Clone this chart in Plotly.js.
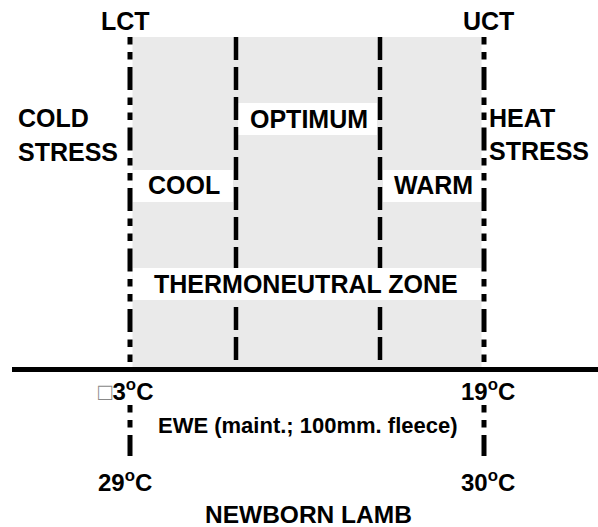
<!DOCTYPE html>
<html>
<head>
<meta charset="utf-8">
<script src="https://cdn.plot.ly/plotly-3.0.1.min.js"></script>
<style>html,body{margin:0;padding:0;background:#fff;}#chart{width:598px;height:527px;}</style>
</head>
<body>
<div id="chart"></div>
<script>
// ---- data (text content of the diagram) ----
const thresholdLabels = ["LCT", "UCT"];
const stressLabels = [["COLD", "STRESS"], ["HEAT", "STRESS"]];
const zoneLabels = ["COOL", "OPTIMUM", "WARM"];
const neutralLabel = "THERMONEUTRAL ZONE";
const eweTemps = ["\u25A13", "19"];
const eweLabel = "EWE (maint.; 100mm. fleece)";
const lambTemps = ["29", "30"];
const lambLabel = "NEWBORN LAMB";

// ---- layout geometry (pixel-like axis units) ----
const W = 598, H = 527;
const lctX = 130, uctX = 484;        // thresholds
const midX = [236, 380];             // optimum boundaries
const topY = 37, baseY = 369.5;
const grayL = 132.5, grayR = 481.5;

const bold = {family: "Arial, 'Liberation Sans', sans-serif", size: 25, color: "#000", weight: "bold"};
const fnt = (s) => Object.assign({}, bold, {size: s});

const shapes = [];
// stippled thermoneutral background
shapes.push({type: "rect", x0: grayL, x1: grayR, y0: topY, y1: baseY, line: {width: 0}, fillcolor: "#eaeaea", layer: "below"});
// white label bands for zones
const bandRows = [
  {x0: grayL, x1: midX[0] - 3, y0: 170, y1: 202},
  {x0: midX[0] + 2, x1: midX[1] - 3, y0: 103, y1: 135},
  {x0: midX[1] + 3, x1: grayR, y0: 170, y1: 202}
];
bandRows.forEach(b => shapes.push({type: "rect", x0: b.x0, x1: b.x1, y0: b.y0, y1: b.y1, line: {width: 0}, fillcolor: "#fff", layer: "below"}));
// dashed optimum boundaries
midX.forEach(x => shapes.push({type: "line", x0: x, x1: x, y0: topY, y1: baseY, line: {color: "#000", width: 4.5, dash: "23px,7px"}}));
// thermoneutral band (covers the dashed lines)
shapes.push({type: "rect", x0: grayL, x1: grayR, y0: 268, y1: 300, line: {width: 0}, fillcolor: "#fff"});
// LCT / UCT dash-dot-dot lines
const ddd = "7.5px,7.5px,7.5px,7.5px,23px,7.5px";
[lctX, uctX].forEach(x => {
  shapes.push({type: "line", x0: x, x1: x, y0: topY, y1: baseY, line: {color: "#000", width: 5, dash: ddd}});
  shapes.push({type: "line", x0: x, x1: x, y0: 405, y1: 456, line: {color: "#000", width: 5, dash: ddd}});
});
// base line
shapes.push({type: "line", x0: 12, x1: W, y0: baseY, y1: baseY, line: {color: "#000", width: 5}});

const ann = [];
const add = (text, x, y, size, xanchor) => ann.push({text, x, y, xref: "x", yref: "y", showarrow: false,
  xanchor: xanchor || "center", yanchor: "middle", font: fnt(size)});

add(thresholdLabels[0], 125, 21, 25);
add(thresholdLabels[1], 488, 21, 25);
add(stressLabels[0][0], 16, 118, 25, "left");
add(stressLabels[0][1], 16, 152, 25, "left");
add(stressLabels[1][0], 487, 118, 25, "left");
add(stressLabels[1][1], 487, 151, 25, "left");
add(zoneLabels[0], 184, 185, 25);
add(zoneLabels[1], 309, 119, 25);
add(zoneLabels[2], 433, 185, 25);
add(neutralLabel, 306, 284, 25);
const deg = (t) => t.replace("\u25A1", "<span style='font-weight:normal;color:#888'>\u25A1</span>") + "<sup>o</sup>C";
add(deg(eweTemps[0]), 125, 390, 24);
add(deg(eweTemps[1]), 488, 390, 24);
add(eweLabel, 308, 425, 22);
add(deg(lambTemps[0]), 125, 481, 24);
add(deg(lambTemps[1]), 488, 481, 24);
add(lambLabel, 308, 514, 24.5);

Plotly.newPlot("chart", [], {
  width: W, height: H,
  margin: {l: 0, r: 0, t: 0, b: 0},
  paper_bgcolor: "#fff", plot_bgcolor: "#fff",
  xaxis: {range: [0, W], visible: false, fixedrange: true},
  yaxis: {range: [H, 0], visible: false, fixedrange: true},
  shapes, annotations: ann, showlegend: false
}, {staticPlot: true});
</script>
</body>
</html>
